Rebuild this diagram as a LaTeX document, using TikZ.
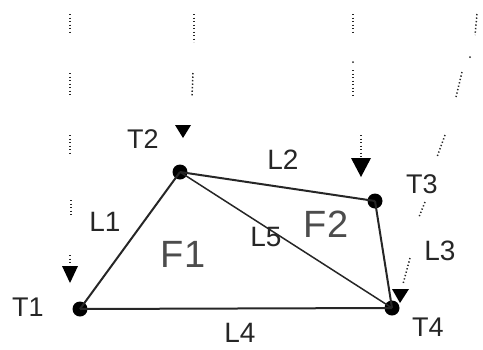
\documentclass[tikz,border=0pt]{standalone}
\usepackage{fontspec}
\setmainfont{Liberation Sans}
\begin{document}
\begin{tikzpicture}[x=1pt,y=-1pt,
  vertex/.style={circle,fill=black,inner sep=0pt,minimum size=15pt},
  edge/.style={line width=2pt,draw=black!85},
  tlab/.style={font=\fontsize{27}{27}\selectfont,text=black!85,inner sep=0pt},
  llab/.style={font=\fontsize{28}{28}\selectfont,text=black!85,inner sep=0pt},
  flab/.style={font=\fontsize{38}{38}\selectfont,text=black!70,inner sep=0pt},
  dotline/.style={draw=black!85,line width=1.5pt,dash pattern=on 1.3pt off 2.2pt},
  tri/.style={fill=black}]
\useasboundingbox (0,0) rectangle (483,349);
% dotted vertical guides
\draw[dotline] (70,14) -- (70,33);
\draw[dotline] (70,73) -- (70,97);
\draw[dotline] (70,135) -- (70,155);
\draw[dotline] (71,200) -- (71,217);
\draw[dotline] (70,255) -- (70,266);
\draw[dotline] (194,14) -- (194,42);
\draw[dotline] (193,73) -- (192,97);
\draw[dotline] (353,14) -- (353,33);
\fill[black!85] (353,62) circle (1pt);
\draw[dotline] (353,70) -- (353,97);
\draw[dotline] (361,135) -- (361,158);
\draw[dotline] (477,14) -- (475,35);
\fill[black!85] (470,57) circle (1pt);
\draw[dotline] (462,72) -- (456,97);
\draw[dotline] (445,135) -- (437,157);
\draw[dotline] (425,202) -- (419,217);
\draw[dotline] (410,258) -- (403,284);
% arrowheads
\fill[tri] (62,266) -- (78,266) -- (70,283) -- cycle;
\fill[tri] (175,125) -- (191,125) -- (183,138) -- cycle;
\fill[tri] (351,158) -- (371,158) -- (361,177) -- cycle;
\fill[tri] (392,289) -- (409,289) -- (400,303) -- cycle;
% vertices
\node[vertex] (t1) at (80,309) {};
\node[vertex] (t2) at (180,172) {};
\node[vertex] (t3) at (375,201) {};
\node[vertex] (t4) at (392,308) {};
% edges
\draw[edge] (t1.center) -- (t2.center);
\draw[edge] (t2.center) -- (t3.center);
\draw[edge] (t3.center) -- (t4.center);
\draw[edge] (t1.center) -- (t4.center);
\draw[edge,line width=1.5pt] (t2.center) -- (t4.center);
% labels
\node[tlab] (lt1) at (28,307) {T1};
\node[tlab] (lt2) at (143,139) {T2};
\node[tlab] (lt3) at (422,184) {T3};
\node[tlab] (lt4) at (428,327) {T4};
\node[llab] (ll1) at (105,222) {L1};
\node[llab] (ll2) at (283,160) {L2};
\node[llab] (ll3) at (440,251) {L3};
\node[llab] (ll4) at (240,333) {L4};
\node[llab] (ll5) at (266,237) {L5};
\node[flab] (f1) at (183,254) {F1};
\node[flab] (f2) at (326,224) {F2};
\end{tikzpicture}
\end{document}
